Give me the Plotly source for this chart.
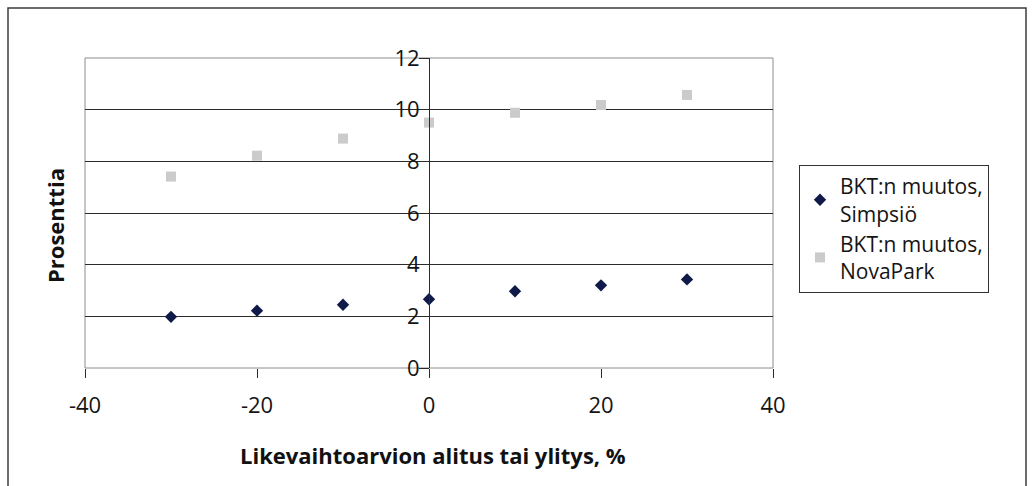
import plotly.graph_objects as go

# Deviation of the turnover estimate (%) and resulting GDP change (%)
deviation = [-30, -20, -10, 0, 10, 20, 30]
simpsio = [1.98, 2.22, 2.45, 2.66, 2.97, 3.20, 3.43]
novapark = [7.41, 8.22, 8.88, 9.50, 9.88, 10.18, 10.57]

x_ticks = [-40, -20, 0, 20, 40]
y_ticks = [0, 2, 4, 6, 8, 10, 12]

FONT = "Open Sans"
TXT = "#141414"
GRID = "#2b2b2b"

W, H = 1032, 486
L, R, T, B = 85, 259, 58, 118
pw, ph = W - L - R, H - T - B


def px_x(p):
    return (p - L) / pw


def px_y(p):
    return (H - B - p) / ph


fig = go.Figure()
fig.add_trace(go.Scatter(
    x=deviation, y=simpsio, mode="markers",
    name="BKT:n muutos,<br>Simpsiö",
    marker=dict(symbol="diamond", size=9.5, color="#101a48"),
))
fig.add_trace(go.Scatter(
    x=deviation, y=novapark, mode="markers",
    name="BKT:n muutos,<br>NovaPark",
    marker=dict(symbol="square", size=10, color="#cbcbcb"),
))

fig.update_layout(
    width=W, height=H,
    margin=dict(l=L, r=R, t=T, b=B),
    paper_bgcolor="white", plot_bgcolor="white",
    font=dict(family=FONT, size=22, color=TXT),
    showlegend=True,
    legend=dict(
        x=px_x(799), y=px_y(165), xanchor="left", yanchor="top",
        bordercolor="#333333", borderwidth=1, bgcolor="white",
        font=dict(family=FONT, size=21, color=TXT),
        tracegroupgap=0,
    ),
    xaxis=dict(
        range=[-40, 40], tickvals=x_ticks, ticktext=[str(v) for v in x_ticks],
        showgrid=False, zeroline=False, showline=False,
        ticks="outside", ticklen=9, tickcolor=GRID, tickwidth=1,
        ticklabelstandoff=9,
        tickfont=dict(family=FONT, size=22, color=TXT),
    ),
    yaxis=dict(
        range=[0, 12], tickvals=y_ticks, ticktext=[str(v) for v in y_ticks],
        anchor="free", position=0.5,
        showgrid=True, gridcolor=GRID, gridwidth=1,
        zeroline=False, showline=True, linecolor=GRID, linewidth=1,
        ticks="outside", ticklen=10, tickcolor=GRID, tickwidth=1,
        ticklabelstandoff=-5,
        tickfont=dict(family=FONT, size=22, color=TXT),
    ),
    annotations=[
        dict(text="<b>Likevaihtoarvion alitus tai ylitys, %</b>",
             xref="paper", yref="paper", x=px_x(433), y=px_y(455),
             xanchor="center", yanchor="middle", showarrow=False,
             font=dict(family=FONT, size=22, color="#111111")),
        dict(text="<b>Prosenttia</b>", textangle=-90,
             xref="paper", yref="paper", x=px_x(55), y=px_y(226),
             xanchor="center", yanchor="middle", showarrow=False,
             font=dict(family=FONT, size=22, color="#111111")),
    ],
    shapes=[
        # plot area frame
        dict(type="rect", xref="paper", yref="paper", x0=0, x1=1, y0=0, y1=1,
             line=dict(color="#8c8c8c", width=1), layer="below"),
        # chart area frame
        dict(type="rect", xref="paper", yref="paper",
             x0=px_x(8), x1=px_x(1026), y0=px_y(500), y1=px_y(8),
             line=dict(color="#3c3c3c", width=1.5)),
    ],
)

fig.write_html("out.html")
